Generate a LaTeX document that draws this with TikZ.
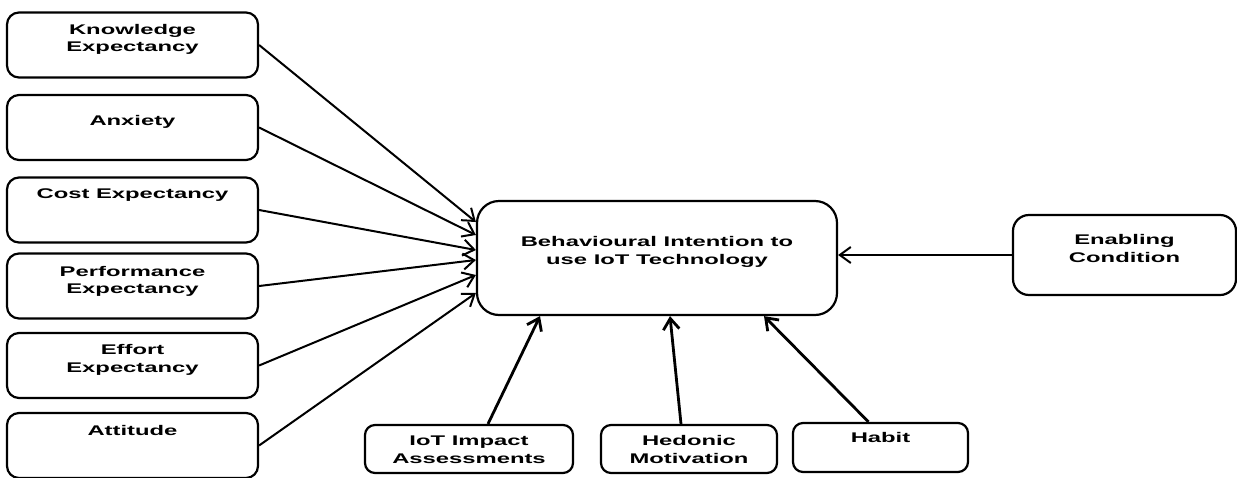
\documentclass[tikz,border=0pt]{standalone}
\usepackage{fontspec}
\setmainfont{Liberation Sans}[FakeStretch=1.7]
\usetikzlibrary{arrows.meta,positioning}

\tikzset{
  factor/.style={draw, line width=2.2pt, rounded corners=12pt, inner sep=0pt,
    align=center, font=\bfseries\fontsize{14pt}{17.5pt}\selectfont},
  leftbox/.style={factor, minimum width=251pt, minimum height=65pt},
  lowbox/.style={factor, rounded corners=10pt, minimum height=48pt},
  link/.style={line width=2pt, -{Straight Barb[length=11pt,width=16pt]}},
  uplink/.style={link, line width=2.8pt},
}

\begin{document}
\begin{tikzpicture}[x=1pt,y=-1pt]
\useasboundingbox (0,0) rectangle (1237,477);

\foreach \n/\y/\h/\d/\t in {know/45/39/26/{Knowledge\\Expectancy},
    anx/127.5/30/35/Anxiety, cost/210/21/44/{Cost Expectancy},
    perf/286/40/25/{Performance\\Expectancy}, eff/365.5/39/26/{Effort\\Expectancy},
    att/445.5/22/43/Attitude}
  \node[leftbox, text height=\h pt, text depth=\d pt] (\n) at (132.5,\y) {\t};

\node[factor, rounded corners=22pt, minimum width=360pt, minimum height=114pt,
  text height=63pt, text depth=51pt] (intent) at (657,258)
  {Behavioural Intention to\\use IoT Technology};
\node[factor, rounded corners=16pt, minimum width=223pt, minimum height=80pt,
  text height=47pt, text depth=33pt] (enable) at (1124.5,255) {Enabling\\Condition};

\node[lowbox, minimum width=208pt, text height=38pt, text depth=10pt] (iot) at (469,449)
  {IoT Impact\\Assessments};
\node[lowbox, minimum width=176pt, text height=38pt, text depth=10pt] (hed) at (689,449)
  {Hedonic\\Motivation};
\node[lowbox, minimum width=175pt, minimum height=49pt, text height=19pt, text depth=30pt]
  (habit) at (880.5,447.5) {Habit};

% arrows into the intention box
\foreach \n/\s in {know/36, anx/23, cost/8, perf/-2, eff/-17, att/-35}
  \draw[link] (\n.east) -- ([yshift=\s pt]intent.west);
\draw[link] (enable.west) -- (enable.west -| intent.east);
\draw[uplink] ([xshift=19pt]iot.north) -- ([xshift=-117pt]intent.south);
\draw[uplink] ([xshift=-8pt]hed.north) -- ([xshift=13pt]intent.south);
\draw[uplink] ([xshift=-12pt]habit.north) -- ([xshift=107pt]intent.south);
\end{tikzpicture}
\end{document}
